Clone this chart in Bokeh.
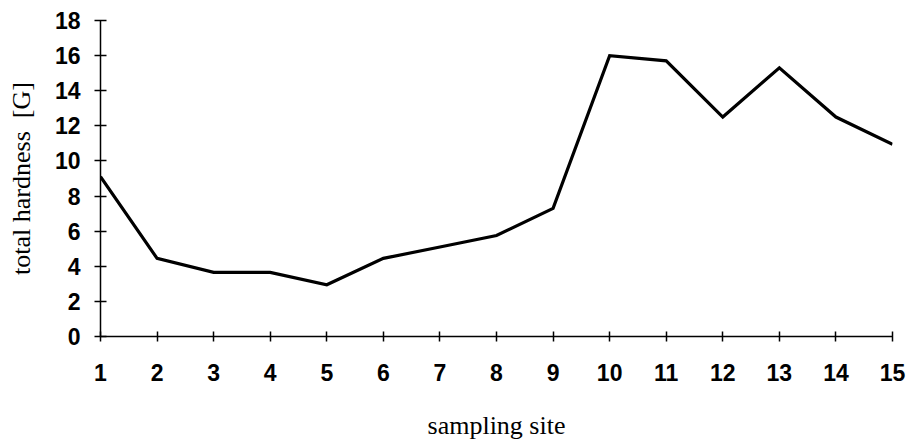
from bokeh.plotting import figure
from bokeh.models import Range1d, FixedTicker
from bokeh.embed import file_html
from bokeh.resources import INLINE

# Total hardness measured at each sampling site
sites = [1, 2, 3, 4, 5, 6, 7, 8, 9, 10, 11, 12, 13, 14, 15]
hardness = [9.1, 4.45, 3.65, 3.65, 2.95, 4.45, 5.1, 5.75, 7.3, 16.0, 15.7, 12.5, 15.3, 12.5, 10.95]

x_ticks = list(range(1, 16))
y_ticks = list(range(0, 19, 2))

p = figure(
    frame_width=792, frame_height=316,
    min_border_left=100, min_border_right=20,
    min_border_top=20, min_border_bottom=111,
    x_range=Range1d(1, 15), y_range=Range1d(0, 18),
    output_backend="svg", toolbar_location=None,
    background_fill_color="white", border_fill_color="white",
)
p.outline_line_color = None
p.xgrid.visible = False
p.ygrid.visible = False

p.line(sites, hardness, line_color="black", line_width=3.2, line_join="miter")

for ax in (p.xaxis[0], p.yaxis[0]):
    ax.axis_line_color = "black"
    ax.axis_line_width = 1.5
    ax.major_tick_line_color = "black"
    ax.major_tick_line_width = 1.5
    ax.minor_tick_line_color = None
    ax.major_label_text_font = "Liberation Sans"
    ax.major_label_text_font_style = "bold"
    ax.major_label_text_color = "black"
    ax.axis_label_text_font = "Liberation Serif"
    ax.axis_label_text_font_style = "normal"
    ax.axis_label_text_color = "black"
    ax.axis_label_text_font_size = "26px"

p.xaxis.ticker = FixedTicker(ticks=x_ticks)
p.xaxis.major_tick_in = 5
p.xaxis.major_tick_out = 5
p.xaxis.major_label_text_font_size = "23px"
p.xaxis.major_label_standoff = 22
p.xaxis.axis_label = "sampling site"
p.xaxis.axis_label_standoff = 27

p.yaxis.ticker = FixedTicker(ticks=y_ticks)
p.yaxis.major_tick_in = 6
p.yaxis.major_tick_out = 6
p.yaxis.major_label_text_font_size = "23px"
p.yaxis.major_label_standoff = 14
p.yaxis.axis_label = "total hardness\u00a0\u00a0[G]"
p.yaxis.axis_label_standoff = 16

open("out.html", "w").write(file_html(p, INLINE))
